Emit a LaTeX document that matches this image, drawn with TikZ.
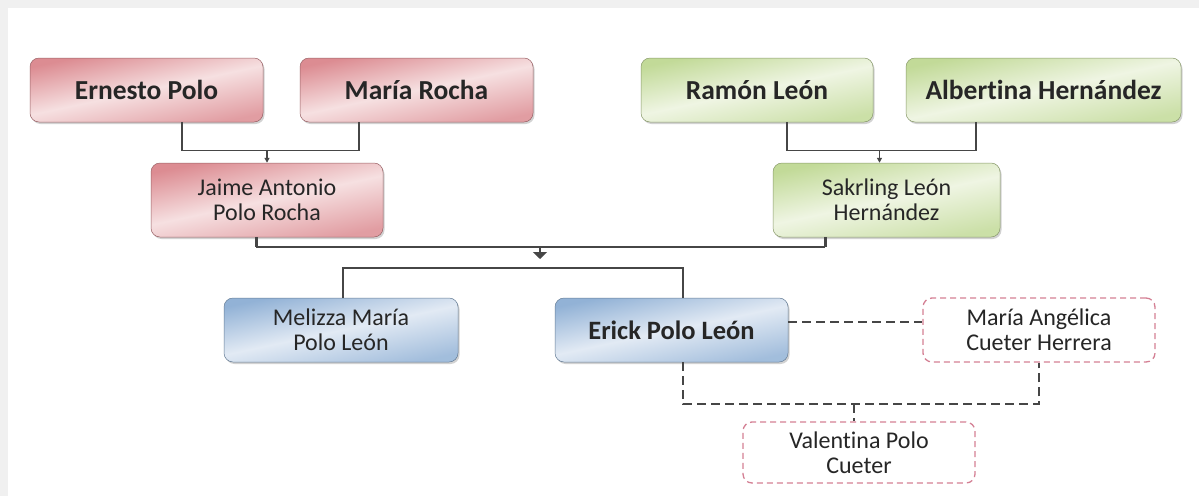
\documentclass[tikz,border=0pt]{standalone}
\usepackage{fontspec}
\setmainfont{Carlito}[Ligatures=NoCommon]
\usetikzlibrary{arrows.meta,shadows}

\definecolor{redA}{RGB}{220,140,146}
\definecolor{redB}{RGB}{246,224,225}
\definecolor{greenA}{RGB}{194,218,152}
\definecolor{greenB}{RGB}{239,245,227}
\definecolor{blueA}{RGB}{146,178,214}
\definecolor{blueB}{RGB}{226,234,244}
\definecolor{dashred}{RGB}{212,128,148}
\definecolor{linegray}{RGB}{70,70,70}

\tikzset{
	person/.style={rounded corners=9pt, minimum height=64pt, align=center,
		draw=#1A!70!black, line width=0.5pt, text=black!85,
		top color=#1A, bottom color=#1A!85, middle color=#1B, shading angle=12,
		drop shadow={opacity=0.35, shadow xshift=1.5pt, shadow yshift=-2pt},
		font=\fontsize{24}{25}\selectfont},
	partner/.style={rounded corners=9pt, minimum height=64pt, align=center,
		draw=dashred, line width=1.3pt, dash pattern=on 6pt off 4pt, fill=white,
		text=black!85, font=\fontsize{24}{25}\selectfont},
	link/.style={draw=linegray, line width=1.3pt},
	spouse/.style={draw=linegray, line width=1.8pt, dash pattern=on 9pt off 5pt},
}

\begin{document}
\begin{tikzpicture}[x=1pt,y=-1pt]
	\useasboundingbox (0,0) rectangle (1199,496);
	\fill[black!6] (0,0) rectangle (1199,496);
	\fill[white] (8,8) rectangle (1199,496);

	% grandparents
	\node (EP) at (146.5, 90)	[person=red,   minimum width=233pt, font=\fontsize{27.5}{30}\selectfont\bfseries]	{Ernesto Polo};
	\node (MR) at (416.5, 90)	[person=red,   minimum width=233pt, font=\fontsize{27.5}{30}\selectfont\bfseries]	{María Rocha};
	\node (RL) at (757,   90)	[person=green, minimum width=232pt, font=\fontsize{27.5}{30}\selectfont\bfseries]	{Ramón León};
	\node (AH) at (1043.5,90)	[person=green, minimum width=275pt, font=\fontsize{27.5}{30}\selectfont\bfseries]	{Albertina Hernández};

	% parents
	\node (JA) at (267,  200)	[person=red,   minimum width=232pt, minimum height=74pt]	{Jaime Antonio\\Polo Rocha};
	\node (SH) at (886.5,200)	[person=green, minimum width=227pt, minimum height=74pt]	{Sakrling León\\Hernández};

	% children and partner
	\node (MP) at (341,  330)	[person=blue,  minimum width=234pt]	{Melizza María\\Polo León};
	\node (EL) at (671.5,330)	[person=blue,  minimum width=233pt, font=\fontsize{26.5}{30}\selectfont\bfseries]	{Erick Polo León};
	\node (MA) at (1039, 330)	[partner,      minimum width=232pt]	{María Angélica\\Cueter Herrera};
	\node (VP) at (859,452.5)	[partner,      minimum width=232pt, minimum height=61pt]	{Valentina Polo\\Cueter};

	\draw[link] ([xshift=35.5pt]EP.south) -- ++(0,28) coordinate (pl) -| ([xshift=-57.5pt]MR.south);
	\draw[link,-{Triangle[length=5pt,width=5pt]}] (pl -| JA.north) -- (JA.north);
	\draw[link] ([xshift=30pt]RL.south) -- ++(0,28) coordinate (pr) -| ([xshift=-67.5pt]AH.south);
	\draw[link,-{Triangle[length=5pt,width=5pt]}] (pr -| SH.north) ++(-7,0) -- ([xshift=-7pt]SH.north);

	\draw[link,line width=3pt] ([xshift=-11pt]JA.south) -- ++(0,10) coordinate (ml);
	\draw[link,line width=3pt] ([xshift=-61.5pt]SH.south) -- ++(0,10) coordinate (mr);
	\draw[link,line width=1.8pt] (ml) -- (mr);
	\coordinate (kids) at (540,268);
	\draw[link,line width=2.2pt,-{Triangle[length=7pt,width=14pt]}] (ml -| kids) -- ([yshift=9pt]kids);
	\draw[link] ([xshift=2pt]MP.north) |- (kids) -| ([xshift=11.5pt]EL.north);

	\draw[spouse] ([yshift=8pt]EL.east) -- ([yshift=8pt]MA.west);
	\draw[spouse] ([xshift=11.5pt]EL.south) -- ++(0,42) coordinate (cl) -| (MA.south);
	\draw[spouse] (cl -| VP.north) ++(-5,0) -- ([xshift=-5pt]VP.north);
\end{tikzpicture}
\end{document}
